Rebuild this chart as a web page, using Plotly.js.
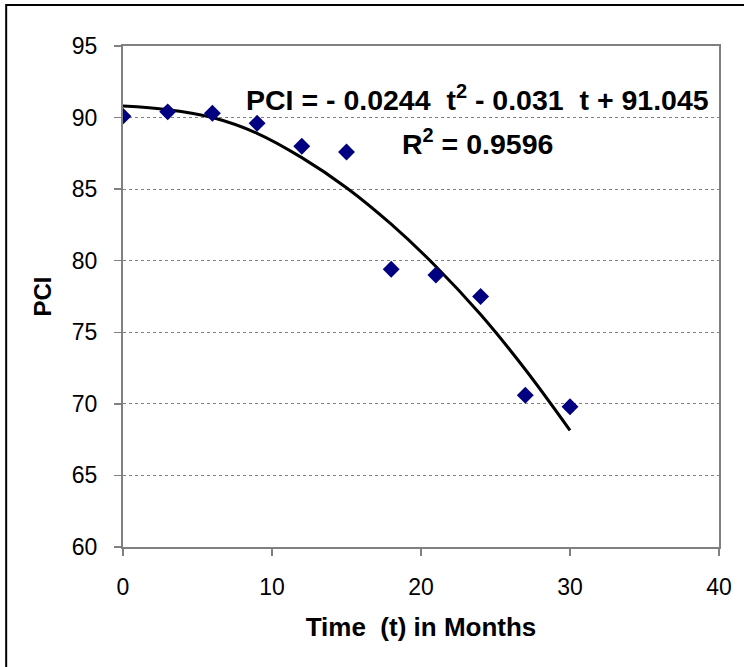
<!DOCTYPE html>
<html>
<head>
<meta charset="utf-8">
<script src="https://cdn.plot.ly/plotly-3.0.1.min.js"></script>
<style>
html,body{margin:0;padding:0;background:#fff;}
#chart{width:744px;height:667px;}
</style>
</head>
<body>
<div id="chart"></div>
<script>
// Observed data points
var months = [0, 3, 6, 9, 12, 15, 18, 21, 24, 27, 30];
var pci = [90.1, 90.4, 90.3, 89.6, 88.0, 87.6, 79.4, 79.0, 77.5, 70.6, 69.8];

// Trend curve
var trendMonths = [0, 3, 6, 9, 12, 15, 18, 21, 24, 27, 30];
var trendPci = [90.8, 90.55, 90.0, 88.9, 87.2, 85.1, 82.55, 79.6, 76.24, 72.4, 68.15];

var xTicks = [0, 10, 20, 30, 40];
var yTicks = [60, 65, 70, 75, 80, 85, 90, 95];

var equationText = 'PCI = - 0.0244  t<sup>2</sup> - 0.031  t + 91.045';
var r2Text = 'R<sup>2</sup> = 0.9596';

var font = 'Liberation Sans, Arial, sans-serif';

var traces = [
  {
    x: trendMonths, y: trendPci, type: 'scatter', mode: 'lines',
    line: {color: '#000000', width: 3, shape: 'spline'},
    hoverinfo: 'skip', showlegend: false
  },
  {
    x: months, y: pci, type: 'scatter', mode: 'markers',
    marker: {symbol: 'diamond', size: 13, color: '#000080'},
    showlegend: false
  }
];

var layout = {
  width: 744, height: 667,
  margin: {l: 123, r: 24.5, t: 46, b: 120, pad: 0},
  paper_bgcolor: '#ffffff', plot_bgcolor: '#ffffff',
  font: {family: font, color: '#000000'},
  showlegend: false,
  xaxis: {
    range: [0, 40], tickvals: xTicks, ticktext: xTicks.map(String),
    ticks: 'outside', ticklen: 7, tickwidth: 1.5, tickcolor: '#808080',
    showline: true, linecolor: '#808080', linewidth: 2, mirror: true,
    showgrid: false, zeroline: false,
    tickfont: {family: font, size: 23, color: '#000000'},
    ticklabelstandoff: 11,
    title: {text: '<b>Time  (t) in Months</b>', font: {family: font, size: 26, color: '#000000'}, standoff: 19}
  },
  yaxis: {
    range: [60, 95], tickvals: yTicks, ticktext: yTicks.map(String),
    ticks: 'outside', ticklen: 7, tickwidth: 1.5, tickcolor: '#808080',
    showline: true, linecolor: '#808080', linewidth: 2, mirror: true,
    showgrid: true, gridcolor: '#808080', gridwidth: 1, griddash: 'dot',
    zeroline: false,
    tickfont: {family: font, size: 23, color: '#000000'},
    ticklabelstandoff: 12,
    title: {text: '<b>PCI</b>', font: {family: font, size: 24, color: '#000000'}, standoff: 13}
  },
  annotations: [
    {x: 23.8, y: 91.4, xref: 'x', yref: 'y', text: '<b>' + equationText + '</b>',
     showarrow: false, xanchor: 'center', yanchor: 'middle',
     font: {family: font, size: 28.5, color: '#000000'}},
    {x: 23.8, y: 88.3, xref: 'x', yref: 'y', text: '<b>' + r2Text + '</b>',
     showarrow: false, xanchor: 'center', yanchor: 'middle',
     font: {family: font, size: 28.5, color: '#000000'}}
  ],
  shapes: [
    {type: 'rect', xref: 'paper', yref: 'paper', x0: -0.196, x1: 1.3, y0: -0.5, y1: 1.0818,
     line: {color: '#000000', width: 2}, fillcolor: 'rgba(0,0,0,0)', layer: 'below'}
  ]
};

Plotly.newPlot('chart', traces, layout, {displayModeBar: false, staticPlot: true});
</script>
</body>
</html>
